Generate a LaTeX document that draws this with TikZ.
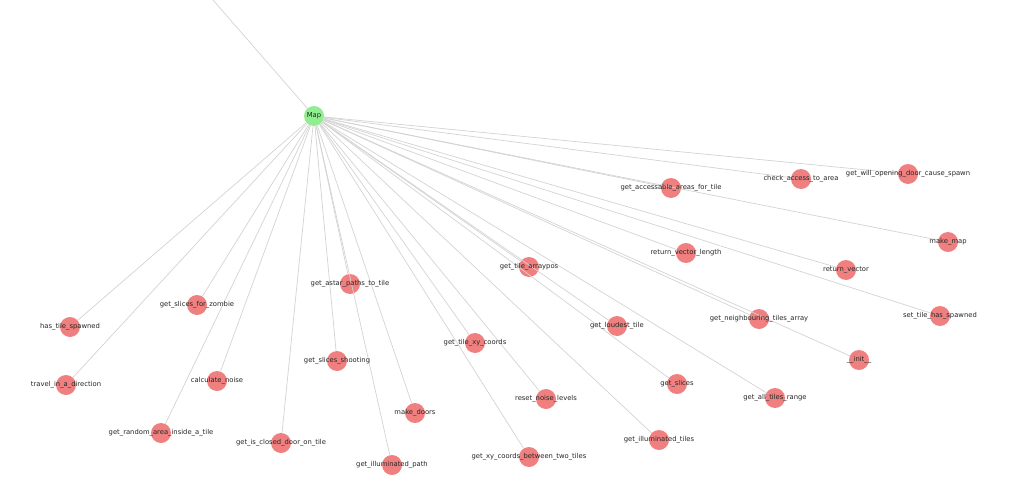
\documentclass[tikz,border=0pt]{standalone}
\usepackage{fontspec}
\setmainfont{DejaVu Sans}
\usetikzlibrary{positioning}

\definecolor{fncol}{HTML}{F08080}
\definecolor{mapcol}{HTML}{90EE90}
\definecolor{edgecol}{HTML}{D3D3D3}

\tikzset{
    fn/.style={circle, fill=fncol, minimum size=20pt, inner sep=0pt},
    cls/.style={circle, fill=mapcol, minimum size=20pt, inner sep=0pt},
    lbl/.style={font=\fontsize{6.8}{8}\selectfont, text=black!85, inner sep=0pt},
    edgeline/.style={draw=edgecol, line width=0.7pt},
}

\begin{document}
\begin{tikzpicture}[x=1pt, y=-1pt]
    \useasboundingbox (0,0) rectangle (1024,492);
    % class
    \node [cls] (Map) at (314,116) {};
    \coordinate (up) at (213,0);

    % methods
    \node [fn] (accessable) at (671,188) {};
    \node [fn] (check_access) at (801,179) {};
    \node [fn] (will_open) at (908,174) {};
    \node [fn] (make_map) at (948,242) {};
    \node [fn] (vec_length) at (686,253) {};
    \node [fn] (ret_vector) at (846,270) {};
    \node [fn] (arraypos) at (529,267) {};
    \node [fn] (astar) at (350,284) {};
    \node [fn] (slices_zombie) at (197,305) {};
    \node [fn] (has_spawned) at (70,327) {};
    \node [fn] (set_spawned) at (940,316) {};
    \node [fn] (neighbouring) at (759,319) {};
    \node [fn] (loudest) at (617,326) {};
    \node [fn] (xy_coords) at (475,343) {};
    \node [fn] (init) at (859,360) {};
    \node [fn] (slices_shoot) at (337,361) {};
    \node [fn] (calc_noise) at (217,381) {};
    \node [fn] (travel) at (66,385) {};
    \node [fn] (slices) at (677,384) {};
    \node [fn] (all_tiles) at (775,398) {};
    \node [fn] (reset_noise) at (546,399) {};
    \node [fn] (make_doors) at (415,413) {};
    \node [fn] (random_area) at (161,433) {};
    \node [fn] (illum_tiles) at (659,440) {};
    \node [fn] (closed_door) at (281,443) {};
    \node [fn] (between) at (529,457) {};
    \node [fn] (illum_path) at (392,465) {};

    % edges
    \draw [edgeline] (Map) -- (up);
    \draw [edgeline] (Map) -- (accessable);
    \draw [edgeline] (Map) -- (check_access);
    \draw [edgeline] (Map) -- (will_open);
    \draw [edgeline] (Map) -- (make_map);
    \draw [edgeline] (Map) -- (vec_length);
    \draw [edgeline] (Map) -- (ret_vector);
    \draw [edgeline] (Map) -- (arraypos);
    \draw [edgeline] (Map) -- (astar);
    \draw [edgeline] (Map) -- (slices_zombie);
    \draw [edgeline] (Map) -- (has_spawned);
    \draw [edgeline] (Map) -- (set_spawned);
    \draw [edgeline] (Map) -- (neighbouring);
    \draw [edgeline] (Map) -- (loudest);
    \draw [edgeline] (Map) -- (xy_coords);
    \draw [edgeline] (Map) -- (init);
    \draw [edgeline] (Map) -- (slices_shoot);
    \draw [edgeline] (Map) -- (calc_noise);
    \draw [edgeline] (Map) -- (travel);
    \draw [edgeline] (Map) -- (slices);
    \draw [edgeline] (Map) -- (all_tiles);
    \draw [edgeline] (Map) -- (reset_noise);
    \draw [edgeline] (Map) -- (make_doors);
    \draw [edgeline] (Map) -- (random_area);
    \draw [edgeline] (Map) -- (illum_tiles);
    \draw [edgeline] (Map) -- (closed_door);
    \draw [edgeline] (Map) -- (between);
    \draw [edgeline] (Map) -- (illum_path);

    % labels
    \node [lbl] at (Map) {Map};
    \node [lbl] at (accessable) {get\_accessable\_areas\_for\_tile};
    \node [lbl] at (check_access) {check\_access\_to\_area};
    \node [lbl] at (will_open) {get\_will\_opening\_door\_cause\_spawn};
    \node [lbl] at (make_map) {make\_map};
    \node [lbl] at (vec_length) {return\_vector\_length};
    \node [lbl] at (ret_vector) {return\_vector};
    \node [lbl] at (arraypos) {get\_tile\_arraypos};
    \node [lbl] at (astar) {get\_astar\_paths\_to\_tile};
    \node [lbl] at (slices_zombie) {get\_slices\_for\_zombie};
    \node [lbl] at (has_spawned) {has\_tile\_spawned};
    \node [lbl] at (set_spawned) {set\_tile\_has\_spawned};
    \node [lbl] at (neighbouring) {get\_neighbouring\_tiles\_array};
    \node [lbl] at (loudest) {get\_loudest\_tile};
    \node [lbl] at (xy_coords) {get\_tile\_xy\_coords};
    \node [lbl] at (init) {\_\_init\_\_};
    \node [lbl] at (slices_shoot) {get\_slices\_shooting};
    \node [lbl] at (calc_noise) {calculate\_noise};
    \node [lbl] at (travel) {travel\_in\_a\_direction};
    \node [lbl] at (slices) {get\_slices};
    \node [lbl] at (all_tiles) {get\_all\_tiles\_range};
    \node [lbl] at (reset_noise) {reset\_noise\_levels};
    \node [lbl] at (make_doors) {make\_doors};
    \node [lbl] at (random_area) {get\_random\_area\_inside\_a\_tile};
    \node [lbl] at (illum_tiles) {get\_illuminated\_tiles};
    \node [lbl] at (closed_door) {get\_is\_closed\_door\_on\_tile};
    \node [lbl] at (between) {get\_xy\_coords\_between\_two\_tiles};
    \node [lbl] at (illum_path) {get\_illuminated\_path};
\end{tikzpicture}
\end{document}
